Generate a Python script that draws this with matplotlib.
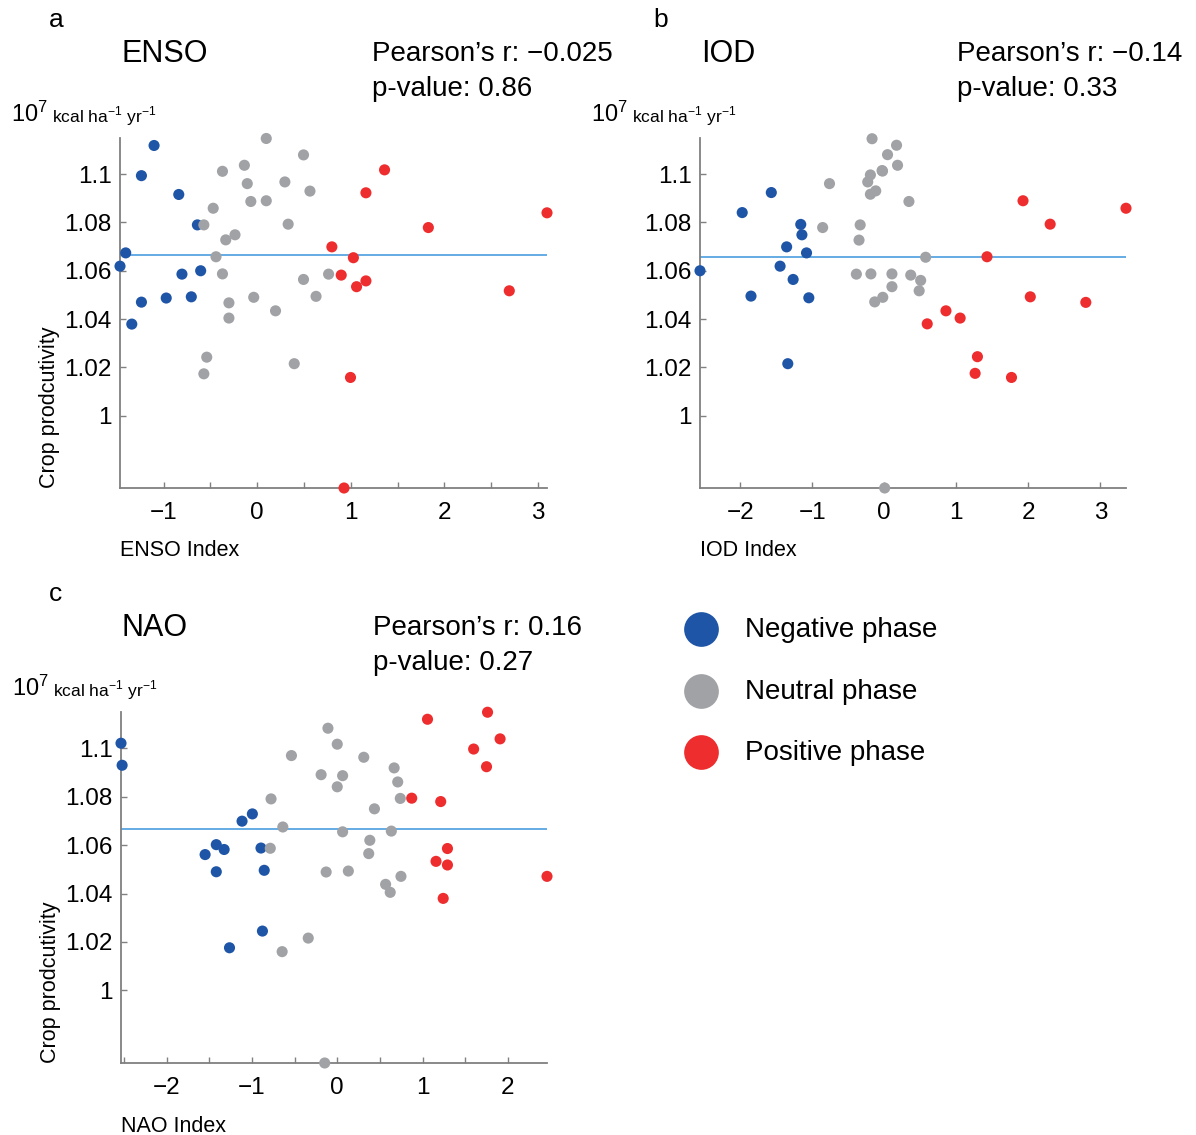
import numpy as np
import matplotlib
matplotlib.use('Agg')
import matplotlib.pyplot as plt
from matplotlib.lines import Line2D

plt.rcParams['font.family'] = ['Liberation Sans', 'DejaVu Sans']
plt.rcParams['mathtext.fontset'] = 'custom'
plt.rcParams['mathtext.rm'] = 'Liberation Sans'

# ENSO phases (index, crop productivity in 1e7 kcal/ha/yr)
enso_neg_x = [-1.103, -1.238, -0.839, -0.640, -1.406, -1.467, -0.805, -0.605, -1.238, -0.973, -0.705, -1.341]
enso_neg_y = [1.1119, 1.0994, 1.0916, 1.0790, 1.0674, 1.0619, 1.0586, 1.0600, 1.0470, 1.0487, 1.0492, 1.0379]
enso_neu_x = [0.096, 0.494, -0.138, -0.372, -0.107, 0.295, 0.563, -0.069, 0.096, -0.471, -0.571, 0.330, -0.238,
              -0.337, -0.441, -0.372, 0.762, 0.494, 0.628, -0.038, -0.303, -0.303, 0.195, -0.540, -0.571, 0.395]
enso_neu_y = [1.1148, 1.1080, 1.1037, 1.1012, 1.0961, 1.0968, 1.0930, 1.0887, 1.0890, 1.0859, 1.0790, 1.0793, 1.0749,
              1.0728, 1.0658, 1.0587, 1.0586, 1.0564, 1.0494, 1.0490, 1.0467, 1.0404, 1.0434, 1.0242, 1.0173, 1.0215]
enso_pos_x = [1.360, 1.161, 3.096, 1.828, 0.797, 1.027, 0.897, 1.061, 1.161, 2.693, 0.996, 0.927]
enso_pos_y = [1.1018, 1.0923, 1.0840, 1.0779, 1.0699, 1.0654, 1.0582, 1.0534, 1.0558, 1.0517, 1.0158, 0.9700]

# IOD phases
iod_neg_x = [-1.569, -1.973, -1.160, -1.144, -1.356, -1.080, -2.559, -1.447, -1.266, -1.851, -1.048, -1.340]
iod_neg_y = [1.0924, 1.0841, 1.0792, 1.0749, 1.0699, 1.0674, 1.0600, 1.0619, 1.0564, 1.0495, 1.0488, 1.0215]
iod_neu_x = [-0.170, 0.170, 0.045, 0.184, -0.031, -0.025, -0.193, -0.230, -0.761, -0.119, -0.193, 0.342, -0.335,
             -0.856, -0.351, 0.574, -0.388, -0.186, 0.106, 0.367, 0.505, 0.106, 0.484, -0.021, -0.133, 0.005]
iod_neu_y = [1.1147, 1.1120, 1.1081, 1.1037, 1.1015, 1.1013, 1.0997, 1.0968, 1.0961, 1.0931, 1.0917, 1.0887, 1.0790,
             1.0779, 1.0727, 1.0656, 1.0586, 1.0587, 1.0587, 1.0582, 1.0560, 1.0534, 1.0517, 1.0490, 1.0471, 0.9700]
iod_pos_x = [1.926, 3.356, 2.303, 1.426, 2.027, 2.798, 0.856, 1.053, 0.596, 1.293, 1.261, 1.766]
iod_pos_y = [1.0890, 1.0859, 1.0793, 1.0658, 1.0492, 1.0469, 1.0434, 1.0404, 1.0380, 1.0244, 1.0175, 1.0158]

# NAO phases
nao_neg_x = [-2.535, -2.522, -1.116, -0.995, -1.418, -1.326, -1.549, -0.894, -1.418, -0.856, -0.877, -1.263]
nao_neg_y = [1.1021, 1.0930, 1.0699, 1.0729, 1.0602, 1.0582, 1.0561, 1.0588, 1.0490, 1.0496, 1.0245, 1.0176]
nao_neu_x = [-0.109, 0.000, -0.537, 0.311, 0.667, -0.189, 0.063, 0.709, 0.000, -0.776, 0.739, 0.436, -0.638,
             0.063, 0.634, 0.382, -0.785, 0.369, -0.130, 0.130, 0.747, 0.567, 0.621, -0.340, -0.646, -0.147]
nao_neu_y = [1.1083, 1.1017, 1.0970, 1.0963, 1.0919, 1.0891, 1.0887, 1.0861, 1.0841, 1.0791, 1.0793, 1.0750, 1.0675,
             1.0655, 1.0658, 1.0620, 1.0587, 1.0565, 1.0489, 1.0493, 1.0471, 1.0438, 1.0405, 1.0216, 1.0160, 0.9700]
nao_pos_x = [1.762, 1.058, 1.909, 1.599, 1.750, 0.873, 1.213, 1.292, 1.158, 1.292, 2.459, 1.242]
nao_pos_y = [1.1149, 1.1120, 1.1039, 1.0997, 1.0924, 1.0794, 1.0780, 1.0586, 1.0533, 1.0518, 1.0471, 1.0380]

mean_enso = 1.0666
mean_iod = 1.0659
mean_nao = 1.0666

pearson_r = ['\u22120.025', '\u22120.14', '0.16']
p_values = ['0.86', '0.33', '0.27']

ytick_vals = [1.0, 1.02, 1.04, 1.06, 1.08, 1.1]
ytick_labels = ['1', '1.02', '1.04', '1.06', '1.08', '1.1']

c_neg = '#1f55a6'
c_neu = '#a0a2a5'
c_pos = '#ee2d2e'
c_mean = '#4a9ee0'
c_axis = '#808080'

W, H = 1196, 1135
fig = plt.figure(figsize=(W / 100, H / 100), dpi=100)


def fx(px):
    return px / W


def fy(py):
    return 1 - py / H


def panel(rect, data, mean, xticks, xlabels, xlabel_txt, name, r, p, letter, lx, ly,
          stat_dx=252, ylabel=True):
    ax = fig.add_axes(rect)
    allx = []
    for (x, y), col in zip(data, [c_neg, c_neu, c_pos]):
        ax.scatter(x, y, s=64, color=col, edgecolors='none', zorder=3, clip_on=False)
        allx += x
    ax.set_xlim(min(allx), max(allx))
    ax.set_ylim(0.97, 1.115)
    ax.axhline(mean, color=c_mean, lw=1.2, zorder=2)
    for s in ['top', 'right']:
        ax.spines[s].set_visible(False)
    for s in ['left', 'bottom']:
        ax.spines[s].set_color(c_axis)
        ax.spines[s].set_linewidth(1.3)
    ax.set_yticks(ytick_vals)
    ax.set_yticklabels(ytick_labels)
    ax.set_xticks(xticks)
    ax.set_xticklabels(xlabels)
    ax.tick_params(direction='in', length=4, width=1, color=c_axis, labelsize=17.5, labelcolor='black')
    ax.tick_params(axis='x', pad=10)
    ax.tick_params(axis='y', pad=6)

    # panel titles and stats, positioned in pixels
    x0 = rect[0] * W
    top = (1 - rect[1] - rect[3]) * H
    bot = (1 - rect[1]) * H
    fig.text(fx(lx), fy(ly), letter, fontsize=19, ha='center', va='center')
    fig.text(fx(x0 + 1), fy(top - 84), name, fontsize=22, ha='left', va='center')
    fig.text(fx(x0 + stat_dx), fy(top - 84), "Pearson\u2019s r: " + r, fontsize=20, ha='left', va='center')
    fig.text(fx(x0 + stat_dx), fy(top - 49), "p-value: " + p, fontsize=20, ha='left', va='center')
    fig.text(fx(x0 - 109), fy(top - 16), r'$\mathregular{10^7}$', fontsize=17, ha='left', va='baseline')
    fig.text(fx(x0 - 68), fy(top - 16), r'kcal ha$^{\mathregular{-1}}$ yr$^{\mathregular{-1}}$',
             fontsize=12.5, ha='left', va='baseline')
    fig.text(fx(x0), fy(bot + 63), xlabel_txt, fontsize=15.5, ha='left', va='center')
    if ylabel:
        fig.text(fx(x0 - 70), fy(bot), 'Crop prodcutivity', fontsize=15.5, rotation=90,
                 ha='center', va='bottom')
    return ax


ticks_a = [-1, -0.5, 0, 0.5, 1, 1.5, 2, 2.5, 3]
labels_a = ['\u22121', '', '0', '', '1', '', '2', '', '3']
ticks_b = [-2, -1, 0, 1, 2, 3]
labels_b = ['\u22122', '\u22121', '0', '1', '2', '3']
ticks_c = [-2.5, -2, -1.5, -1, -0.5, 0, 0.5, 1, 1.5, 2]
labels_c = ['', '\u22122', '', '\u22121', '', '0', '', '1', '', '2']

panel([fx(120), fy(488), 427 / W, 350 / H],
      [(enso_neg_x, enso_neg_y), (enso_neu_x, enso_neu_y), (enso_pos_x, enso_pos_y)],
      mean_enso, ticks_a, labels_a, 'ENSO Index', 'ENSO', pearson_r[0], p_values[0], 'a', 56, 20)
panel([fx(700), fy(488), 426 / W, 350 / H],
      [(iod_neg_x, iod_neg_y), (iod_neu_x, iod_neu_y), (iod_pos_x, iod_pos_y)],
      mean_iod, ticks_b, labels_b, 'IOD Index', 'IOD', pearson_r[1], p_values[1], 'b', 661, 20,
      stat_dx=257, ylabel=False)
panel([fx(121), fy(1063), 426 / W, 351 / H],
      [(nao_neg_x, nao_neg_y), (nao_neu_x, nao_neu_y), (nao_pos_x, nao_pos_y)],
      mean_nao, ticks_c, labels_c, 'NAO Index', 'NAO', pearson_r[2], p_values[2], 'c', 56, 594)

# legend for the three phases
leg_labels = ['Negative phase', 'Neutral phase', 'Positive phase']
leg_colors = [c_neg, c_neu, c_pos]
leg_ys = [629, 691, 752]
for lab, col, ly in zip(leg_labels, leg_colors, leg_ys):
    fig.add_artist(Line2D([fx(701)], [fy(ly)], marker='o', markersize=25, color=col,
                          markeredgewidth=0, transform=fig.transFigure))
    fig.text(fx(745), fy(ly + 1), lab, fontsize=20, ha='left', va='center')

plt.savefig('out.png', dpi=100)
